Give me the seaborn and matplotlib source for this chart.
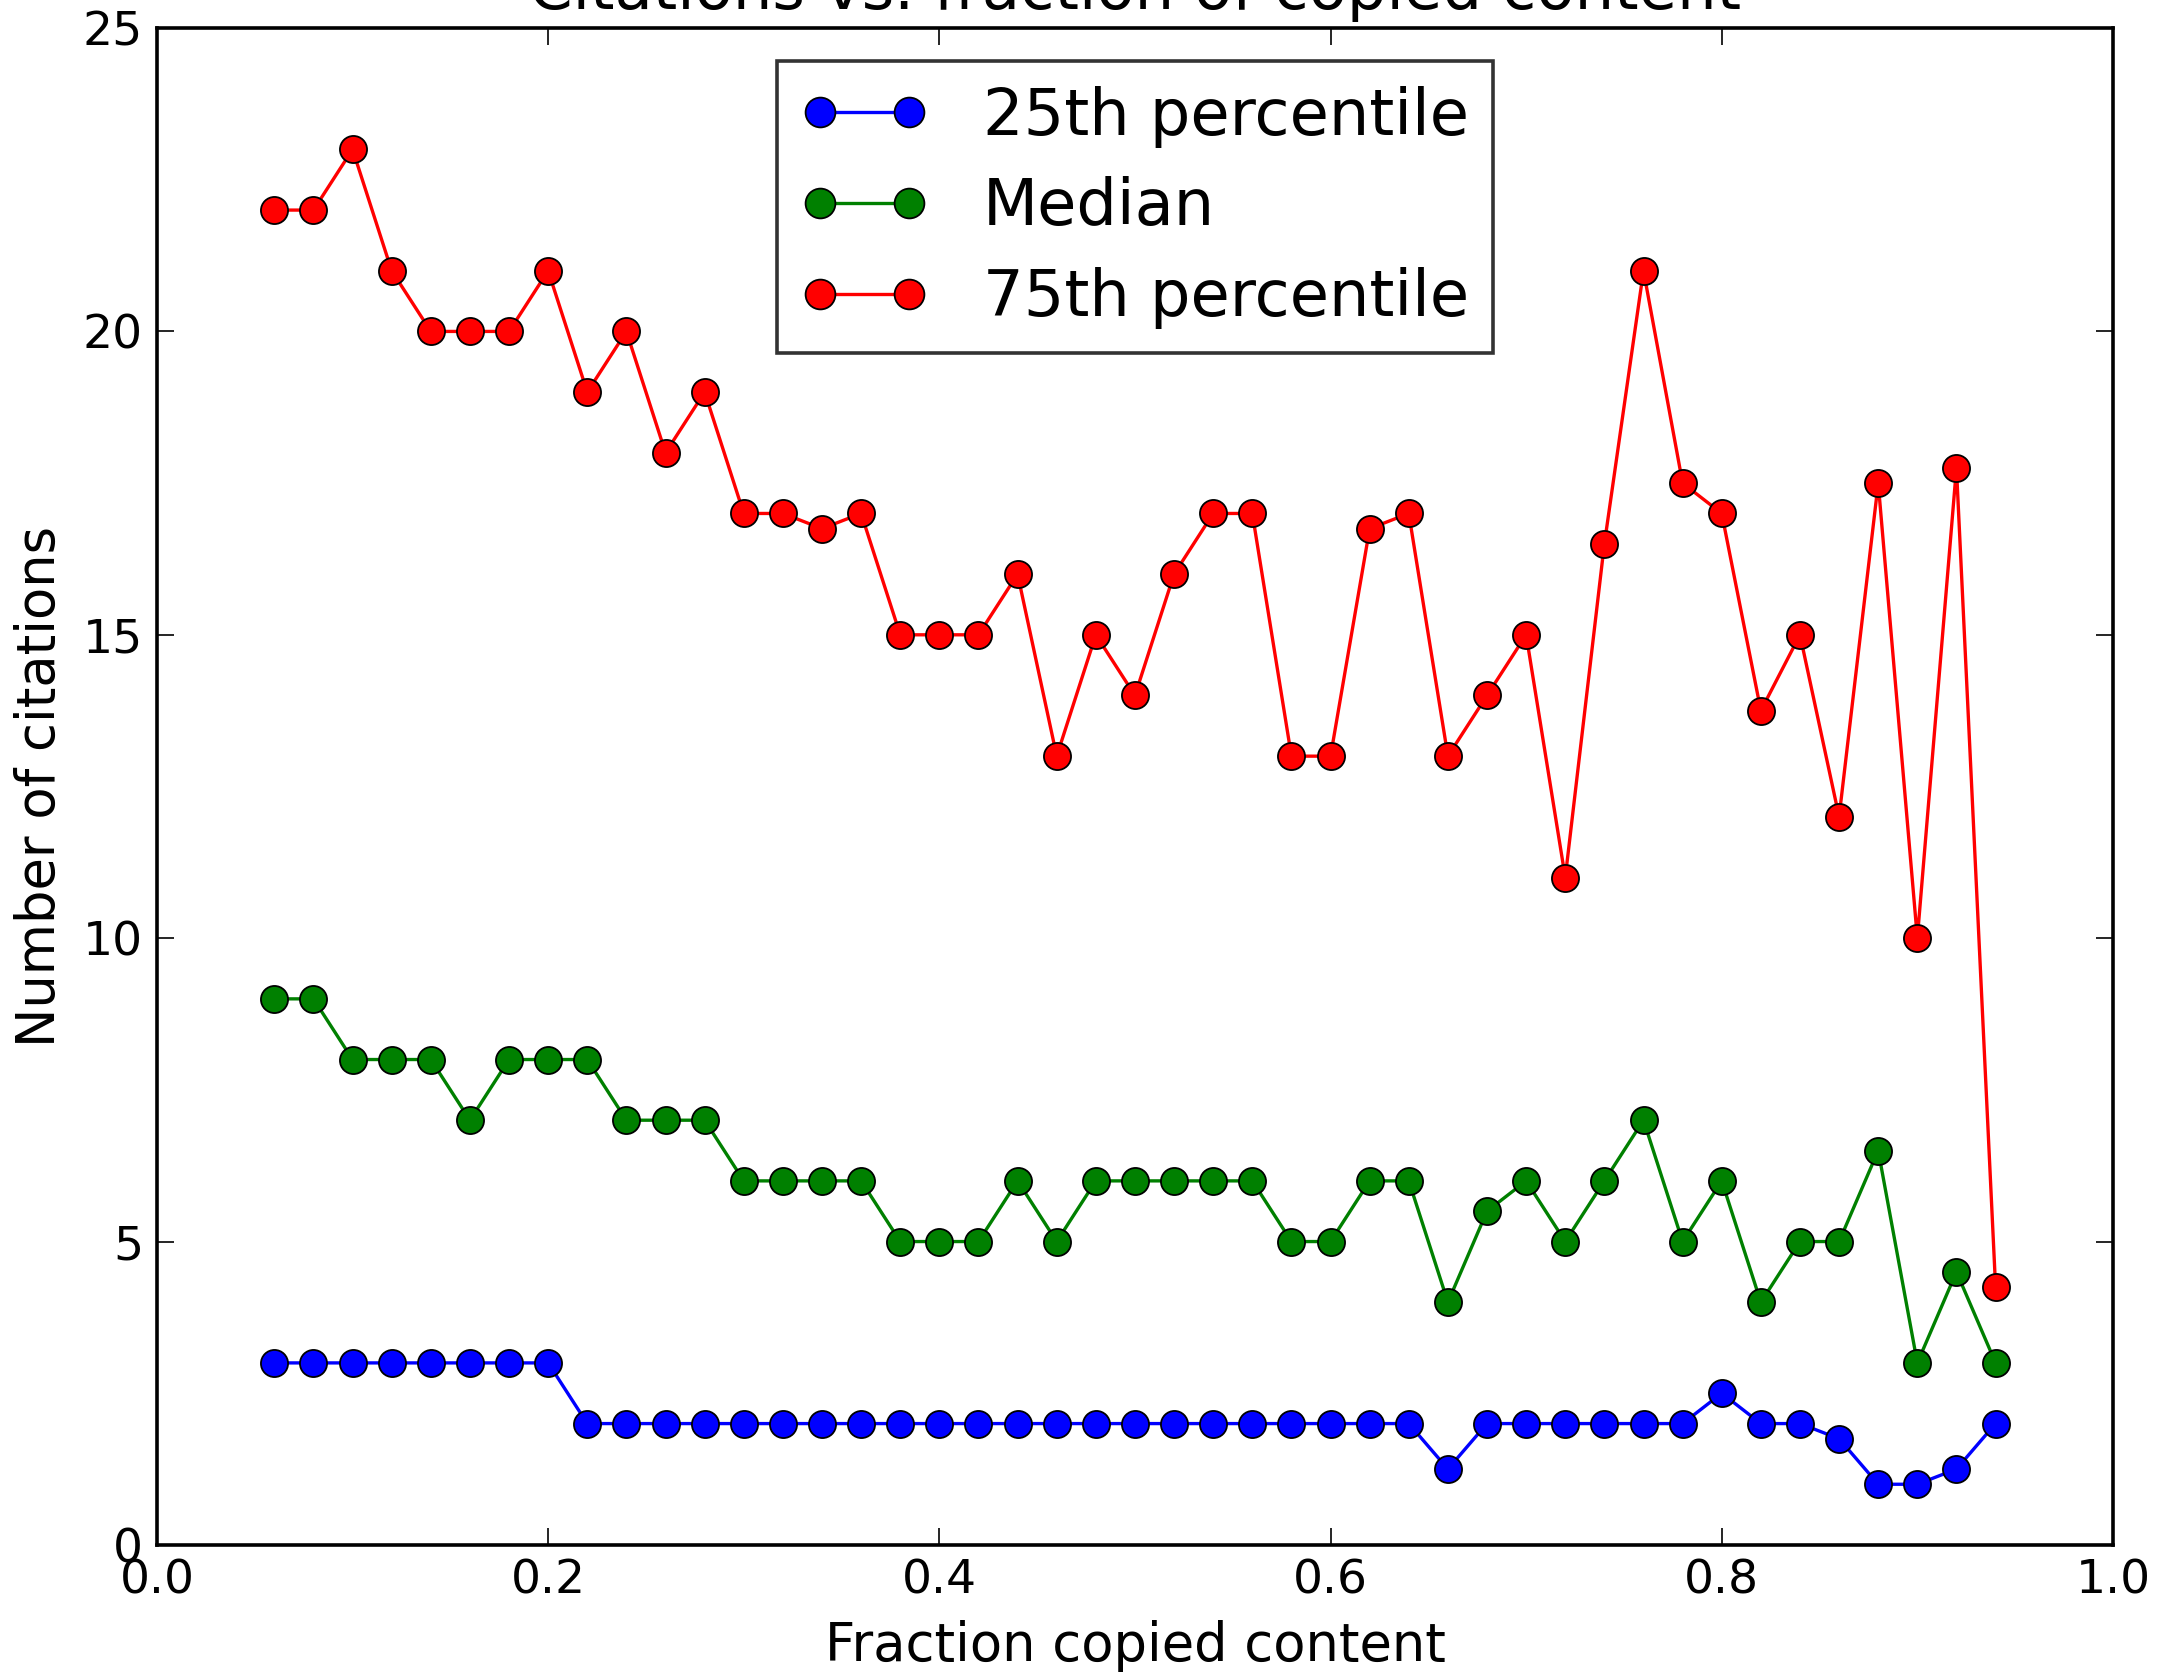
import numpy as np
import pandas as pd
import matplotlib
matplotlib.use("Agg")
import matplotlib.pyplot as plt
import seaborn as sns

# Fraction of copied content (bin centres)
fraction = [0.06, 0.08, 0.10, 0.12, 0.14, 0.16, 0.18, 0.20, 0.22, 0.24,
            0.26, 0.28, 0.30, 0.32, 0.34, 0.36, 0.38, 0.40, 0.42, 0.44,
            0.46, 0.48, 0.50, 0.52, 0.54, 0.56, 0.58, 0.60, 0.62, 0.64,
            0.66, 0.68, 0.70, 0.72, 0.74, 0.76, 0.78, 0.80, 0.82, 0.84,
            0.86, 0.88, 0.90, 0.92, 0.94]

p25 = [3, 3, 3, 3, 3, 3, 3, 3, 2, 2,
       2, 2, 2, 2, 2, 2, 2, 2, 2, 2,
       2, 2, 2, 2, 2, 2, 2, 2, 2, 2,
       1.25, 2, 2, 2, 2, 2, 2, 2.5, 2, 2,
       1.75, 1, 1, 1.25, 2]

median = [9, 9, 8, 8, 8, 7, 8, 8, 8, 7,
          7, 7, 6, 6, 6, 6, 5, 5, 5, 6,
          5, 6, 6, 6, 6, 6, 5, 5, 6, 6,
          4, 5.5, 6, 5, 6, 7, 5, 6, 4, 5,
          5, 6.5, 3, 4.5, 3]

p75 = [22, 22, 23, 21, 20, 20, 20, 21, 19, 20,
       18, 19, 17, 17, 16.75, 17, 15, 15, 15, 16,
       13, 15, 14, 16, 17, 17, 13, 13, 16.75, 17,
       13, 14, 15, 11, 16.5, 21, 17.5, 17, 13.75, 15,
       12, 17.5, 10, 17.75, 4.25]

series_names = ["25th percentile", "Median", "75th percentile"]
series_colors = ["#0000ff", "#008000", "#ff0000"]

sns.set_style("ticks")
plt.rcParams["font.family"] = ["DejaVu Sans"]
plt.rcParams["text.color"] = "black"
plt.rcParams["axes.labelcolor"] = "black"
plt.rcParams["xtick.color"] = "black"
plt.rcParams["ytick.color"] = "black"

fig = plt.figure(figsize=(21.68, 16.8), dpi=100)
ax = fig.add_axes([0.0724, 0.0804, 0.9022, 0.9029])

for name, vals, col in zip(series_names, [p25, median, p75], series_colors):
    df = pd.DataFrame({"fraction": fraction, "citations": vals})
    sns.lineplot(data=df, x="fraction", y="citations", ax=ax, color=col,
                 marker="o", markersize=19.5, markeredgecolor="black",
                 markeredgewidth=1.3, linewidth=2.4, label=name)

ax.set_xlim(0.0, 1.0)
ax.set_ylim(0, 25)
ax.set_xticks([0.0, 0.2, 0.4, 0.6, 0.8, 1.0])
ax.set_xticklabels(["0.0", "0.2", "0.4", "0.6", "0.8", "1.0"])
ax.set_yticks([0, 5, 10, 15, 20, 25])

ax.tick_params(axis="both", which="major", direction="in", length=12,
               width=1.2, labelsize=34, top=True, right=True, pad=10,
               colors="black", labelcolor="black")
for sp in ax.spines.values():
    sp.set_linewidth(2.6)
    sp.set_color("black")

ax.set_xlabel("Fraction copied content", fontsize=38, labelpad=12)
ax.set_ylabel("Number of citations", fontsize=38, labelpad=12)
ax.set_title("Citations vs. fraction of copied content", fontsize=45, pad=14)

leg = ax.legend(loc="upper center", numpoints=2, fontsize=46, frameon=True,
                fancybox=False, borderpad=0.38, handlelength=2.0,
                handletextpad=0.85, labelspacing=0.45, borderaxespad=0.52,
                markerscale=1.1)
leg.get_frame().set_edgecolor("black")
leg.get_frame().set_linewidth(2.6)
for txt in leg.get_texts():
    txt.set_color("black")

fig.savefig("out.png", dpi=100)
